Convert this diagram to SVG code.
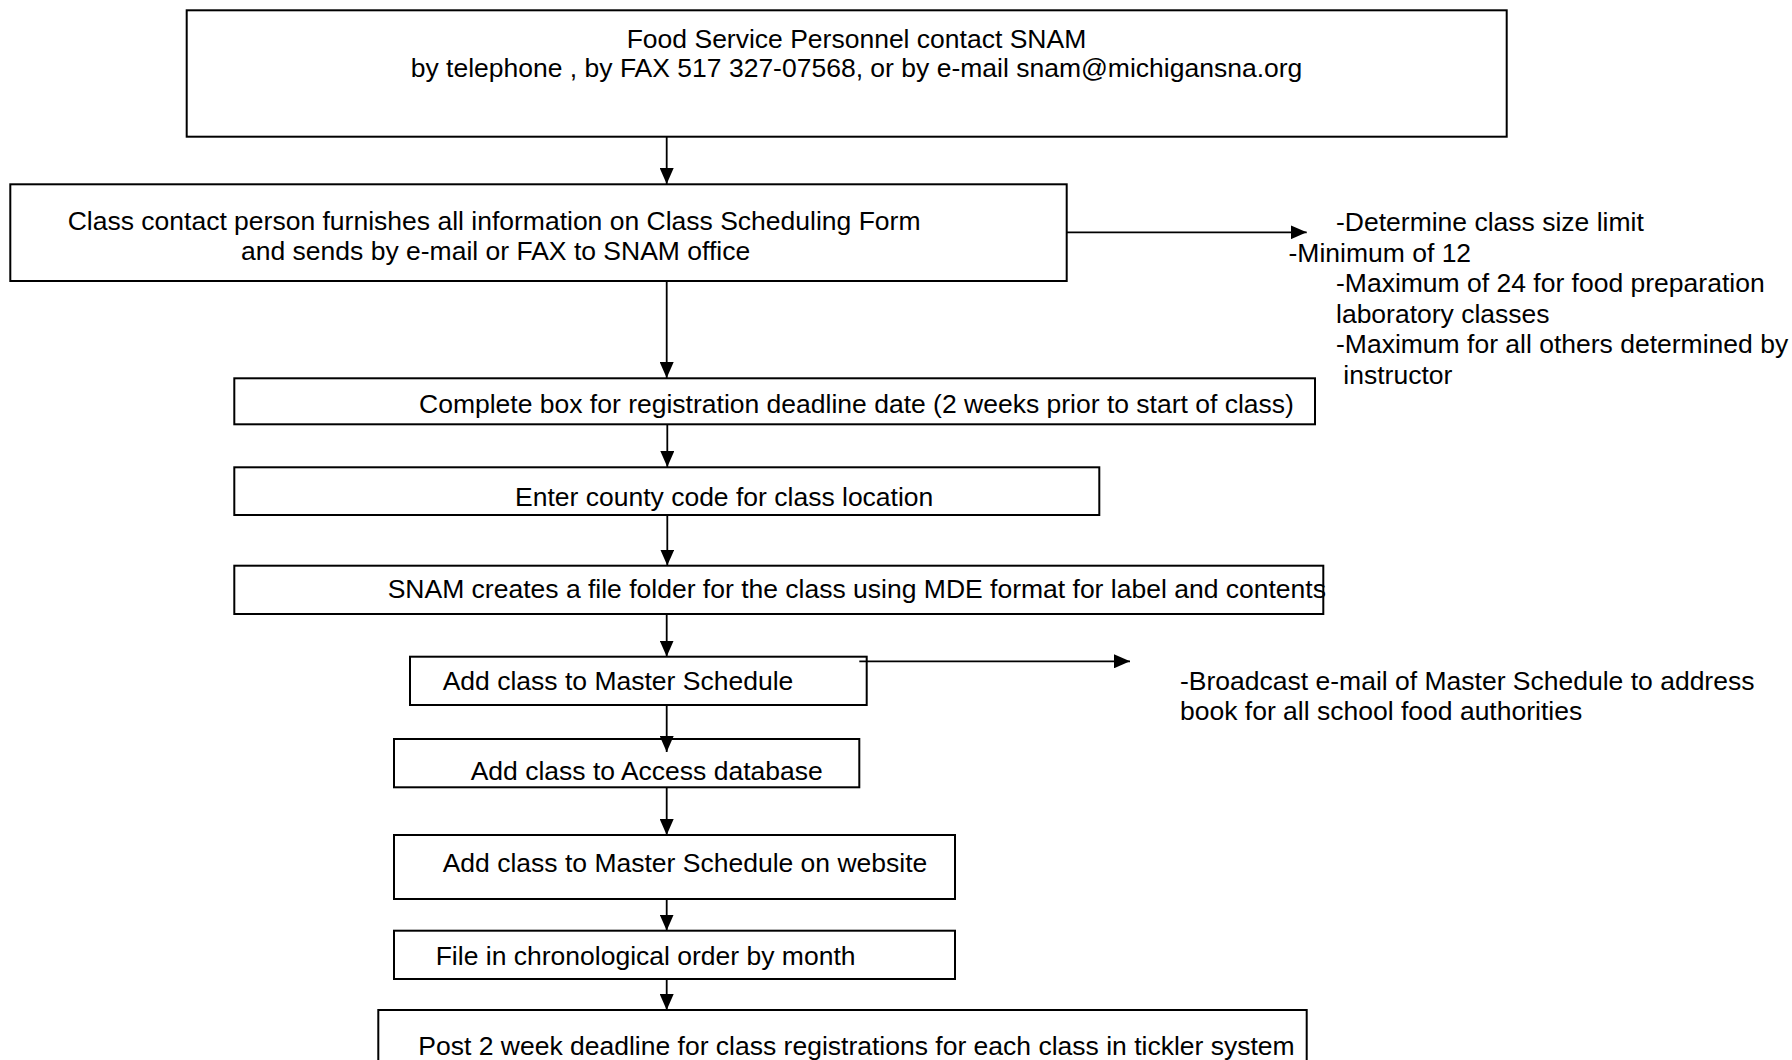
<svg xmlns="http://www.w3.org/2000/svg" width="1792" height="1060" viewBox="0 0 1792 1060">
<style>
.box{fill:#fff;stroke:#000;stroke-width:2}
.t{font-family:"Liberation Sans",Arial,sans-serif;font-size:26.5px;fill:#000}
.c{fill:none;stroke:#000;stroke-width:1.8}
</style>
<defs>
<marker id="ah" markerUnits="userSpaceOnUse" markerWidth="16" markerHeight="14" refX="16" refY="7" orient="auto" viewBox="0 0 16 14">
<path d="M0,0 L16,7 L0,14 z" fill="#000"/>
</marker>
</defs>
<rect width="1792" height="1060" fill="#fff"/>
<g id="n1">
<rect class="box" x="186.7" y="10.3" width="1320" height="126.4"/>
<text class="t" x="626.7" y="47.7">Food Service Personnel contact SNAM</text>
<text class="t" x="410.7" y="77.3">by telephone , by FAX 517 327-07568, or by e-mail snam@michigansna.org</text>
</g>
<g id="n2">
<rect class="box" x="10.3" y="184.3" width="1056.4" height="96.7"/>
<text class="t" x="67.7" y="230">Class contact person furnishes all information on Class Scheduling Form</text>
<text class="t" x="241" y="260">and sends by e-mail or FAX to SNAM office</text>
</g>
<g id="note1">
<text class="t" x="1336" y="231">-Determine class size limit</text>
<text class="t" x="1288.5" y="261.6">-Minimum of 12</text>
<text class="t" x="1336" y="292.2">-Maximum of 24 for food preparation</text>
<text class="t" x="1336" y="322.8">laboratory classes</text>
<text class="t" x="1336" y="353.4">-Maximum for all others determined by</text>
<text class="t" x="1336" y="384" xml:space="preserve"> instructor</text>
</g>
<g id="n3">
<rect class="box" x="234.3" y="378.3" width="1080.7" height="46"/>
<text class="t" x="419" y="413.3">Complete box for registration deadline date (2 weeks prior to start of class)</text>
</g>
<g id="n4">
<rect class="box" x="234.3" y="467.3" width="865" height="47.7"/>
<text class="t" x="515" y="506">Enter county code for class location</text>
</g>
<g id="n5">
<rect class="box" x="234.3" y="565.7" width="1089" height="48.3"/>
<text class="t" x="387.7" y="598.3">SNAM creates a file folder for the class using MDE format for label and contents</text>
</g>
<g id="n6">
<rect class="box" x="410" y="656.7" width="456.7" height="48.3"/>
<text class="t" x="442.7" y="690">Add class to Master Schedule</text>
</g>
<g id="note2">
<text class="t" x="1180" y="689.5">-Broadcast e-mail of Master Schedule to address</text>
<text class="t" x="1180" y="720">book for all school food authorities</text>
</g>
<g id="n7">
<rect class="box" x="394" y="739" width="465.3" height="48.3"/>
<text class="t" x="470.7" y="780">Add class to Access database</text>
</g>
<g id="n8">
<rect class="box" x="394" y="835" width="561" height="64"/>
<text class="t" x="442.7" y="872.3">Add class to Master Schedule on website</text>
</g>
<g id="n9">
<rect class="box" x="394" y="930.7" width="561" height="48.3"/>
<text class="t" x="435.7" y="965">File in chronological order by month</text>
</g>
<g id="n10">
<rect class="box" x="378.3" y="1010" width="928.4" height="70"/>
<text class="t" x="418.3" y="1055">Post 2 week deadline for class registrations for each class in tickler system</text>
</g>
<g id="connectors">
<line class="c" x1="666.7" y1="137" x2="666.7" y2="184" marker-end="url(#ah)"/>
<line class="c" x1="1066.7" y1="232.3" x2="1306.7" y2="232.3" marker-end="url(#ah)"/>
<line class="c" x1="666.7" y1="281" x2="666.7" y2="378" marker-end="url(#ah)"/>
<line class="c" x1="667.3" y1="424.3" x2="667.3" y2="467" marker-end="url(#ah)"/>
<line class="c" x1="667.3" y1="515" x2="667.3" y2="565.5" marker-end="url(#ah)"/>
<line class="c" x1="666.7" y1="614" x2="666.7" y2="656.5" marker-end="url(#ah)"/>
<line class="c" x1="859.3" y1="661.3" x2="1130" y2="661.3" marker-end="url(#ah)"/>
<line class="c" x1="666.7" y1="705" x2="666.7" y2="752" marker-end="url(#ah)"/>
<line class="c" x1="666.7" y1="787.3" x2="666.7" y2="835" marker-end="url(#ah)"/>
<line class="c" x1="666.7" y1="899" x2="666.7" y2="930.5" marker-end="url(#ah)"/>
<line class="c" x1="666.7" y1="979" x2="666.7" y2="1010" marker-end="url(#ah)"/>
</g>
</svg>
